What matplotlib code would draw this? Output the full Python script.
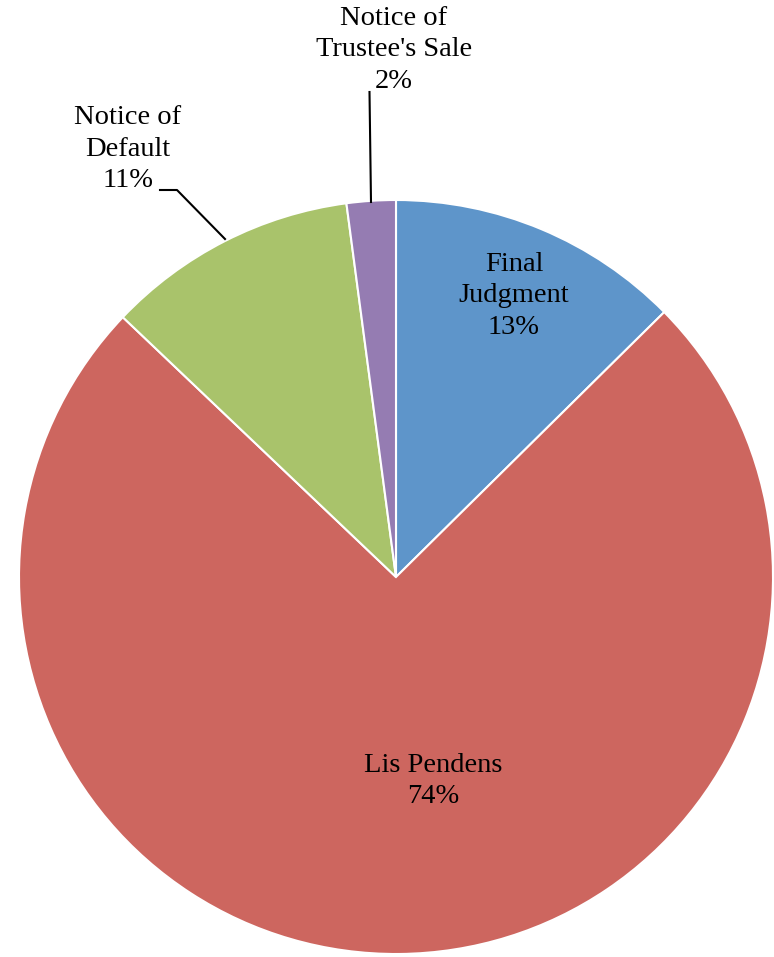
import matplotlib
matplotlib.use("Agg")
import matplotlib.pyplot as plt

categories = ["Final\nJudgment", "Lis Pendens", "Notice of\nDefault", "Notice of\nTrustee's Sale"]
values = [12.6, 74.5, 10.8, 2.1]
pct_labels = ["13%", "74%", "11%", "2%"]
colors = ["#5E95CA", "#CD665F", "#A9C36B", "#957CB2"]

W, H = 774, 957
fig = plt.figure(figsize=(W / 100, H / 100), dpi=100)
ax = fig.add_axes([0, 0, 1, 1])

cx, cy, r = 396, H - 577, 377
wedges, _ = ax.pie(values, colors=colors, startangle=90, counterclock=False,
                   center=(cx, cy), radius=r, frame=True,
                   wedgeprops=dict(edgecolor="white", linewidth=1.5))
ax.set_xlim(0, W)
ax.set_ylim(0, H)
ax.set_aspect("equal")
ax.axis("off")

font = dict(family="Liberation Serif", fontsize=20.5, color="black",
            ha="center", va="center", linespacing=1.33)
labels = [f"{c}\n{p}" for c, p in zip(categories, pct_labels)]

# inside labels
ax.text(514, H - 296, labels[0], **font)
ax.text(433, H - 781, labels[1], **font)
# outside labels
ax.text(128, H - 149, labels[2], **font)
ax.text(394, H - 50, labels[3], **font)

# leader lines
ax.plot([160, 177, 225], [H - 190, H - 190, H - 239], color="black", lw=1.5)
ax.plot([369.5, 371], [H - 92, H - 202], color="black", lw=1.5)

fig.savefig("out.png", dpi=100)
